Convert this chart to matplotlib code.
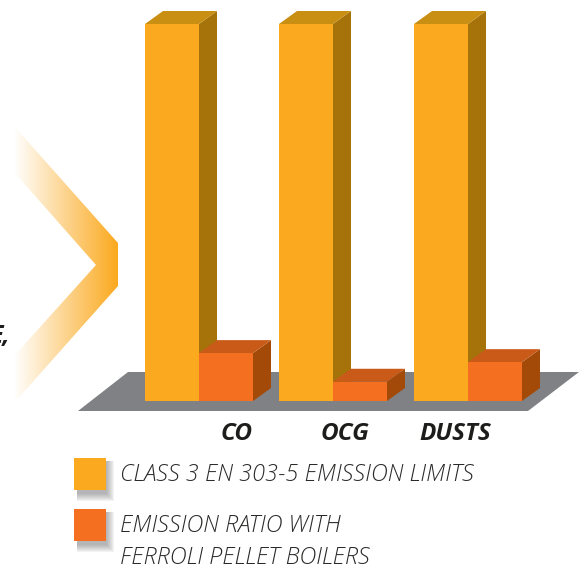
import numpy as np
import matplotlib
matplotlib.use("Agg")
import matplotlib.pyplot as plt
from matplotlib.patches import Polygon, Rectangle
from matplotlib.colors import LinearSegmentedColormap

categories = ["CO", "OCG", "DUSTS"]
limits = [100, 100, 100]
ferroli = [12.7, 5.1, 10.3]
legend_labels = ["CLASS 3 EN 303-5 EMISSION LIMITS", "EMISSION RATIO WITH\nFERROLI PELLET BOILERS"]

W, H = 587, 564
fig = plt.figure(figsize=(W/100, H/100), dpi=100)
ax = fig.add_axes([0, 0, 1, 1])
ax.set_xlim(0, W); ax.set_ylim(H, 0); ax.axis("off")

BASE, SCALE = 401, 3.77
GROUP_X = [145, 279, 414]
LABEL_X = [237, 345, 455]
BW, DX, DY = 54, 18, 13
YEL = ("#FBA91E", "#A6730A", "#C98F13")
ORG = ("#F47020", "#A34A08", "#C95A18")

# floor
ax.add_patch(Polygon([(78, 411), (128, 372), (579, 372), (528, 411)], fc="#808184", ec="none", zorder=1))

# chevron with gradient
cm = LinearSegmentedColormap.from_list("g", ["#FFFFFF", "#FBA91E"])
im = ax.imshow(np.linspace(0, 1, 256)[None, :], extent=(14, 118, 564, 0), cmap=cm, aspect="auto", zorder=1)
chev = Polygon([(14, 126), (118, 243), (118, 286), (14, 403), (14, 356), (96, 265), (14, 172)],
               fc="none", ec="none", transform=ax.transData)
ax.add_patch(chev); im.set_clip_path(chev)
ax.set_xlim(0, W); ax.set_ylim(H, 0)

def bar3d(x, v, cols, z):
    h = v * SCALE
    top = BASE - h
    ax.bar(x, -h, BW, bottom=BASE, align="edge", color=cols[0], lw=0, zorder=z + 0.2)
    ax.add_patch(Polygon([(x+BW, BASE), (x+BW+DX, BASE-DY), (x+BW+DX, top-DY), (x+BW, top)], fc=cols[1], ec="none", zorder=z))
    ax.add_patch(Polygon([(x, top), (x+DX, top-DY), (x+BW+DX, top-DY), (x+BW, top)], fc=cols[2], ec="none", zorder=z))

for i, x in enumerate(GROUP_X):
    bar3d(x, limits[i], YEL, 2 + i)
    bar3d(x + BW, ferroli[i], ORG, 2.5 + i)
    ax.text(LABEL_X[i], 433.5, categories[i], ha="center", va="center",
            fontsize=17.5, family="Open Sans", style="italic", weight="bold", color="#1d1d1b", zorder=9)

# fragment of clipped text on the left
ax.text(10, 336, "E,", ha="right", va="center", fontsize=18, family="Open Sans", style="italic",
        weight="bold", color="#1d1d1b", zorder=9)

# legend
for y, c, t in zip([458, 509], [YEL[0], ORG[0]], legend_labels):
    for k in range(8, 0, -1):
        ax.add_patch(Rectangle((74 + 3, y + 3), 32 + k - 3, 32 + k,
                               fc="#606064", alpha=0.07, ec="none", zorder=5))
    ax.add_patch(Rectangle((74, y), 32, 32, fc=c, ec="none", zorder=6))
    ax.text(119.5, y + 5, t, ha="left", va="top", fontsize=16.9, family="Open Sans", style="italic",
            weight="light", color="#2b2a29", linespacing=1.45, zorder=9)

fig.savefig("out.png", dpi=100)
